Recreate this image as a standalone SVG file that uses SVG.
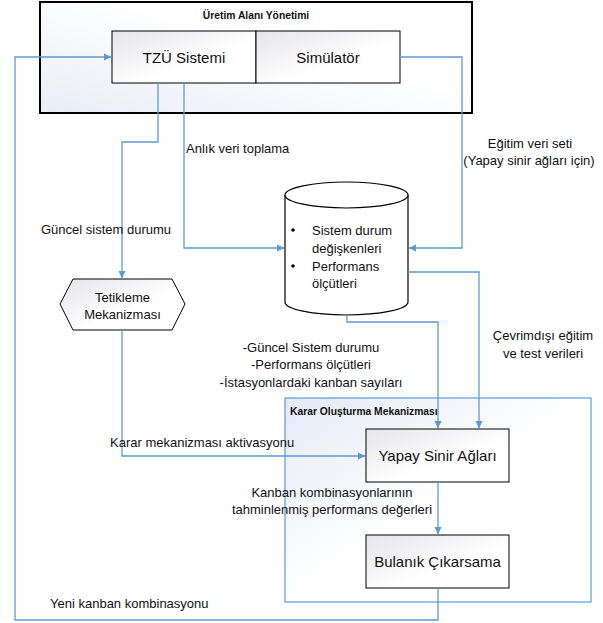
<svg xmlns="http://www.w3.org/2000/svg" width="603" height="623" viewBox="0 0 603 623">
<defs>
<linearGradient id="gOuter" x1="0" y1="1" x2="1" y2="0">
<stop offset="0" stop-color="#e9edf7"/><stop offset="0.6" stop-color="#ffffff"/>
</linearGradient>
<linearGradient id="gBox" x1="0" y1="0" x2="1" y2="1">
<stop offset="0" stop-color="#e6e6ea"/><stop offset="0.6" stop-color="#ffffff"/>
</linearGradient>
<linearGradient id="gKarar" x1="0" y1="0" x2="1" y2="1">
<stop offset="0" stop-color="#e4e9f5"/><stop offset="0.5" stop-color="#ffffff"/>
</linearGradient>
<marker id="arr" markerWidth="8" markerHeight="8" refX="7" refY="4" orient="auto" markerUnits="userSpaceOnUse">
<path d="M0,0.5 L7.5,4 L0,7.5 Z" fill="#5b9bd5"/>
</marker>
<style>
text{font-family:"Liberation Sans",Arial,sans-serif;fill:#111;}
.lbl{font-size:13px;}
.box{font-size:15px;}
.ttl{font-size:10.3px;font-weight:bold;}
.c{text-anchor:middle;}
.con{fill:none;stroke:#5b9bd5;stroke-width:1.3;}
.nd{stroke:#000;stroke-width:1;}
</style>
</defs>

<g id="uretim">
<rect x="40" y="2" width="432" height="111" fill="url(#gOuter)" stroke="#000" stroke-width="2"/>
<text class="ttl c" x="256" y="18.5">Üretim Alanı Yönetimi</text>
</g>
<g id="tzu">
<rect class="nd" x="112" y="31" width="144" height="52" fill="url(#gBox)"/>
<text class="box c" x="184" y="62.5">TZÜ Sistemi</text>
</g>
<g id="simulator">
<rect class="nd" x="256" y="31" width="144" height="52" fill="url(#gBox)"/>
<text class="box c" x="328" y="62.5">Simülatör</text>
</g>

<g id="karar">
<rect x="285" y="398" width="306" height="204" fill="url(#gKarar)" stroke="#5b9bd5" stroke-width="1.2"/>
<text class="ttl" x="290" y="414.5">Karar Oluşturma Mekanizması</text>
</g>

<g id="veritabani">
<path d="M285,195 L285,302 A61.5,13 0 0 0 408,302 L408,195" fill="#fff" stroke="#000" stroke-width="1.2"/>
<ellipse cx="346.5" cy="195" rx="61.5" ry="13" fill="#fff" stroke="#000" stroke-width="1.2"/>
<circle cx="293" cy="230" r="1.8" fill="#000"/>
<circle cx="293" cy="266" r="1.8" fill="#000"/>
<text class="lbl" x="312" y="234.5">Sistem durum</text>
<text class="lbl" x="312" y="252.5">değişkenleri</text>
<text class="lbl" x="312" y="270.5">Performans</text>
<text class="lbl" x="312" y="287.5">ölçütleri</text>
</g>

<g id="tetikleme">
<polygon points="60,304 73,279 172,279 185,304 172,330 73,330" fill="url(#gBox)" stroke="#000" stroke-width="1"/>
<text class="lbl c" x="122.5" y="301.5">Tetikleme</text>
<text class="lbl c" x="122.5" y="318.5">Mekanizması</text>
</g>

<g id="yapay">
<rect class="nd" x="366" y="429" width="143" height="53" fill="url(#gBox)"/>
<text class="box c" x="437.5" y="460.5">Yapay Sinir Ağları</text>
</g>
<g id="bulanik">
<rect class="nd" x="366" y="535" width="143" height="53" fill="url(#gBox)"/>
<text class="box c" x="437.5" y="566.5">Bulanık Çıkarsama</text>
</g>

<g id="connectors">
<polyline class="con" points="438,588 438,620 15,620 15,57 111,57" marker-end="url(#arr)"/>
<polyline class="con" points="158,83 158,142 122,142 122,278" marker-end="url(#arr)"/>
<polyline class="con" points="184,83 184,248 284,248" marker-end="url(#arr)"/>
<polyline class="con" points="400,57 462,57 462,248 409,248" marker-end="url(#arr)"/>
<polyline class="con" points="408,272 479,272 479,428" marker-end="url(#arr)"/>
<polyline class="con" points="347,315 347,322 438,322 438,428" marker-end="url(#arr)"/>
<polyline class="con" points="122,330 122,456 365,456" marker-end="url(#arr)"/>
<polyline class="con" points="438,482 438,534" marker-end="url(#arr)"/>
</g>

<g id="labels">
<text class="lbl" x="186" y="152.5">Anlık veri toplama</text>
<text class="lbl" x="41" y="233.5">Güncel sistem durumu</text>
<text class="lbl c" x="530" y="147.5">Eğitim veri seti</text>
<text class="lbl c" x="529" y="164.5">(Yapay sinir ağları için)</text>
<text class="lbl c" x="311" y="351.5">-Güncel Sistem durumu</text>
<text class="lbl c" x="311" y="368.5">-Performans ölçütleri</text>
<text class="lbl c" x="311" y="386.5">-İstasyonlardaki kanban sayıları</text>
<text class="lbl c" x="543" y="339.5">Çevrimdışı eğitim</text>
<text class="lbl c" x="543" y="357.5">ve test verileri</text>
<text class="lbl" x="110" y="446.5">Karar mekanizması aktivasyonu</text>
<text class="lbl c" x="332" y="496.5">Kanban kombinasyonlarının</text>
<text class="lbl c" x="332" y="513.5">tahminlenmiş performans değerleri</text>
<text class="lbl" x="50" y="607.5">Yeni kanban kombinasyonu</text>
</g>
</svg>
